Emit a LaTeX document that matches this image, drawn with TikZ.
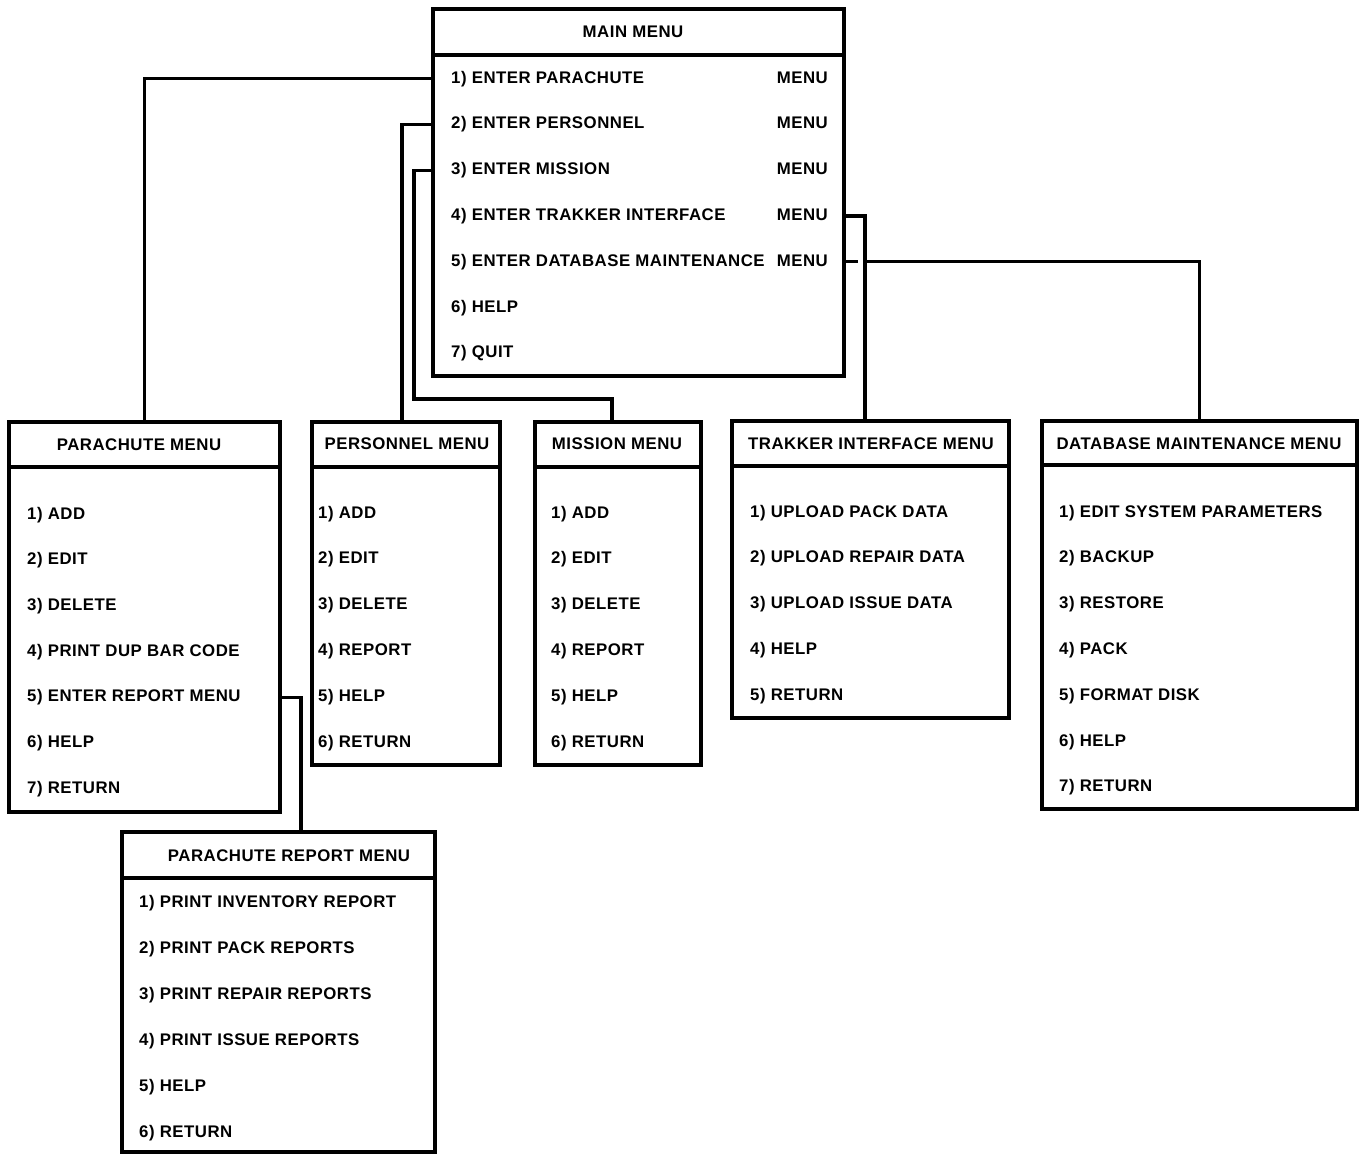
\documentclass[tikz,border=0pt]{standalone}
\usepackage{fontspec}
\setmainfont{Liberation Sans}[LetterSpace=3]
\usetikzlibrary{calc}
\newcommand\itemfont{\fontsize{16.8}{20}\selectfont\bfseries}
\tikzset{
  box/.style={draw, line width=3.5pt, anchor=north west, inner sep=0pt, outer sep=0pt},
  sepline/.style={line width=3.5pt},
  item/.style={anchor=base west, inner sep=0pt, font=\itemfont},
  ttl/.style={anchor=base, inner sep=0pt, font=\itemfont},
  wire/.style={line width=3.2pt},
}
\begin{document}
\begin{tikzpicture}[x=1pt,y=-1pt]
\useasboundingbox (0,0) rectangle (1359,1154);

% ---------------- MAIN MENU ----------------
\node[box, minimum width=411pt, minimum height=367pt] (main) at (433,9) {};
\draw[sepline] ([yshift=-46pt]main.north west) -- ([yshift=-46pt]main.north east);
\node[ttl] (mainT) at (633,37) {MAIN MENU};
\foreach \t [count=\i] in {{1) ENTER PARACHUTE},{2) ENTER PERSONNEL},{3) ENTER MISSION},{4) ENTER TRAKKER INTERFACE},{5) ENTER DATABASE MAINTENANCE},{6) HELP},{7) QUIT}}
  \node[item] (m\i) at (451,{83+45.8*(\i-1)}) {\t};
\foreach \i in {1,...,5}
  \node[item, anchor=base east] (mm\i) at (828,{83+45.8*(\i-1)}) {MENU};

% ---------------- PARACHUTE MENU ----------------
\node[box, minimum width=271pt, minimum height=390pt] (para) at (9,422) {};
\draw[sepline] ([yshift=-45pt]para.north west) -- ([yshift=-45pt]para.north east);
\node[ttl] (paraT) at (139,450) {PARACHUTE MENU};
\foreach \t [count=\i] in {{1) ADD},{2) EDIT},{3) DELETE},{4) PRINT DUP BAR CODE},{5) ENTER REPORT MENU},{6) HELP},{7) RETURN}}
  \node[item] (p\i) at (27,{519+45.7*(\i-1)}) {\t};

% ---------------- PERSONNEL MENU ----------------
\node[box, minimum width=188pt, minimum height=343pt] (pers) at (312,422) {};
\draw[sepline] ([yshift=-45pt]pers.north west) -- ([yshift=-45pt]pers.north east);
\node[ttl] (persT) at (407,449) {PERSONNEL MENU};
\foreach \t [count=\i] in {{1) ADD},{2) EDIT},{3) DELETE},{4) REPORT},{5) HELP},{6) RETURN}}
  \node[item] (r\i) at (318,{518+45.8*(\i-1)}) {\t};

% ---------------- MISSION MENU ----------------
\node[box, minimum width=166pt, minimum height=343pt] (miss) at (535,422) {};
\draw[sepline] ([yshift=-45pt]miss.north west) -- ([yshift=-45pt]miss.north east);
\node[ttl] (missT) at (617,449) {MISSION MENU};
\foreach \t [count=\i] in {{1) ADD},{2) EDIT},{3) DELETE},{4) REPORT},{5) HELP},{6) RETURN}}
  \node[item] (s\i) at (551,{518+45.8*(\i-1)}) {\t};

% ---------------- TRAKKER INTERFACE MENU ----------------
\node[box, minimum width=277pt, minimum height=297pt] (trak) at (732,421) {};
\draw[sepline] ([yshift=-45pt]trak.north west) -- ([yshift=-45pt]trak.north east);
\node[ttl] (trakT) at (871,449) {TRAKKER INTERFACE MENU};
\foreach \t [count=\i] in {{1) UPLOAD PACK DATA},{2) UPLOAD REPAIR DATA},{3) UPLOAD ISSUE DATA},{4) HELP},{5) RETURN}}
  \node[item] (t\i) at (750,{517+45.8*(\i-1)}) {\t};

% ---------------- DATABASE MAINTENANCE MENU ----------------
\node[box, minimum width=315pt, minimum height=388pt] (db) at (1042,421) {};
\draw[sepline] ([yshift=-44pt]db.north west) -- ([yshift=-44pt]db.north east);
\node[ttl] (dbT) at (1199,449) {DATABASE MAINTENANCE MENU};
\foreach \t [count=\i] in {{1) EDIT SYSTEM PARAMETERS},{2) BACKUP},{3) RESTORE},{4) PACK},{5) FORMAT DISK},{6) HELP},{7) RETURN}}
  \node[item] (d\i) at (1059,{517+45.8*(\i-1)}) {\t};

% ---------------- PARACHUTE REPORT MENU ----------------
\node[box, minimum width=313pt, minimum height=320pt] (rep) at (122,832) {};
\draw[sepline] ([yshift=-46pt]rep.north west) -- ([yshift=-46pt]rep.north east);
\node[ttl] (repT) at (289,861) {PARACHUTE REPORT MENU};
\foreach \t [count=\i] in {{1) PRINT INVENTORY REPORT},{2) PRINT PACK REPORTS},{3) PRINT REPAIR REPORTS},{4) PRINT ISSUE REPORTS},{5) HELP},{6) RETURN}}
  \node[item] (e\i) at (139,{907+46*(\i-1)}) {\t};

% ---------------- CONNECTORS ----------------
\coordinate (persIn) at (402,422);
\coordinate (missBend) at (414,399);
\coordinate (missIn) at (612,422);
\coordinate (trakIn) at (865,421);
\coordinate (hopR) at (866,260);
\coordinate (repIn) at (301,832);

\draw[wire] (main.west |- m1) -| (para.north);
\draw[wire] (main.west |- m2) -| (persIn);
\draw[wire] (main.west |- m3) -| (missBend) -| (missIn);
\draw[wire] (main.east |- m4) -| (trakIn);
\draw[wire] (main.east |- m5) -- ([xshift=14pt]main.east |- m5);
\draw[wire] (hopR |- m5) -| (db.north);
\draw[wire] (para.east |- p5) -| (repIn);
\end{tikzpicture}
\end{document}
